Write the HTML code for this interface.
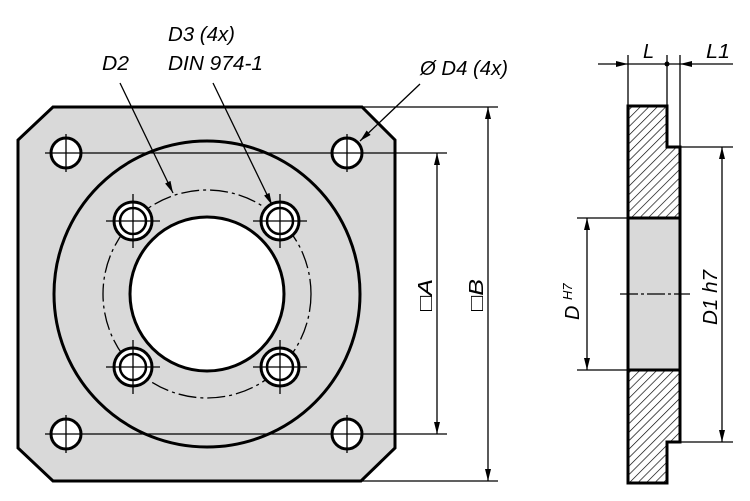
<!DOCTYPE html>
<html><head><style>
html,body{margin:0;padding:0;background:#fff;}
svg{display:block;}
text{font-family:"Liberation Sans Narrow","Liberation Sans",sans-serif;font-style:italic;font-size:20px;fill:#000;}
</style></head><body>
<svg width="750" height="501" viewBox="0 0 750 501" xmlns="http://www.w3.org/2000/svg">
<defs>
<pattern id="h" width="6" height="6" patternUnits="userSpaceOnUse" patternTransform="rotate(45)">
<rect width="6" height="6" fill="#fff"/><line x1="0" y1="0" x2="0" y2="6" stroke="#000" stroke-width="1.3"/>
</pattern>
<marker id="a" viewBox="0 0 10 10" refX="10" refY="5" markerWidth="12" markerHeight="12" markerUnits="userSpaceOnUse" orient="auto-start-reverse"><path d="M0,2.5 L10,5 L0,7.5z" fill="#000"/></marker>
</defs>
<path d="M53,107 L362,107 L395,140 L395,448 L361,481 L53,481 L18,448 L18,140 Z" fill="#d9d9d9" stroke="#000" stroke-width="3"/>
<circle cx="207" cy="294" r="153" fill="none" stroke="#000" stroke-width="3"/>
<circle cx="207" cy="294" r="104" fill="none" stroke="#000" stroke-width="1.3" stroke-dasharray="18,4,3,4"/>
<circle cx="207" cy="294" r="77" fill="#fff" stroke="#000" stroke-width="3"/>
<g stroke="#000" fill="#fff">
<circle cx="133" cy="221" r="19" stroke-width="3"/><circle cx="133" cy="221" r="13" stroke-width="2.5"/>
<circle cx="280" cy="221" r="19" stroke-width="3"/><circle cx="280" cy="221" r="13" stroke-width="2.5"/>
<circle cx="133" cy="367" r="19" stroke-width="3"/><circle cx="133" cy="367" r="13" stroke-width="2.5"/>
<circle cx="280" cy="367" r="19" stroke-width="3"/><circle cx="280" cy="367" r="13" stroke-width="2.5"/>
<circle cx="66" cy="153" r="15" stroke-width="3"/><circle cx="347" cy="153" r="15" stroke-width="3"/>
<circle cx="66" cy="434" r="15" stroke-width="3"/><circle cx="347" cy="434" r="15" stroke-width="3"/>
</g>
<g stroke="#000" stroke-width="1.3">
<line x1="106" y1="221" x2="160" y2="221"/><line x1="133" y1="194" x2="133" y2="248"/>
<line x1="253" y1="221" x2="307" y2="221"/><line x1="280" y1="194" x2="280" y2="248"/>
<line x1="106" y1="367" x2="160" y2="367"/><line x1="133" y1="340" x2="133" y2="394"/>
<line x1="253" y1="367" x2="307" y2="367"/><line x1="280" y1="340" x2="280" y2="394"/>
<line x1="66" y1="134" x2="66" y2="172"/><line x1="347" y1="134" x2="347" y2="172"/>
<line x1="66" y1="415" x2="66" y2="453"/><line x1="347" y1="415" x2="347" y2="453"/>
<line x1="45" y1="153" x2="447" y2="153"/><line x1="45" y1="434" x2="447" y2="434"/>
<line x1="362" y1="107" x2="498" y2="107"/><line x1="361" y1="481" x2="498" y2="481"/>
<line x1="437" y1="153" x2="437" y2="434" marker-start="url(#a)" marker-end="url(#a)"/>
<line x1="488" y1="107" x2="488" y2="481" marker-start="url(#a)" marker-end="url(#a)"/>
<line x1="120" y1="83" x2="173" y2="193" marker-end="url(#a)"/>
<line x1="213" y1="83" x2="272" y2="205" marker-end="url(#a)"/>
<line x1="420" y1="84" x2="360" y2="141" marker-end="url(#a)"/>
</g>
<text x="102" y="70" textLength="27" lengthAdjust="spacingAndGlyphs">D2</text>
<text x="168" y="41" textLength="67" lengthAdjust="spacingAndGlyphs">D3 (4x)</text>
<text x="168" y="70" textLength="95" lengthAdjust="spacingAndGlyphs">DIN 974-1</text>
<text x="420" y="75" textLength="88" lengthAdjust="spacingAndGlyphs">Ø D4 (4x)</text>
<text transform="translate(432,311) rotate(-90)" textLength="32" lengthAdjust="spacingAndGlyphs">□A</text>
<text transform="translate(483,311) rotate(-90)" textLength="32" lengthAdjust="spacingAndGlyphs">□B</text>
<path d="M628,106 L667,106 L667,147 L680,147 L680,442 L667,442 L667,483 L628,483 Z" fill="url(#h)" stroke="#000" stroke-width="3"/>
<rect x="628" y="218" width="52" height="152" fill="#d9d9d9" stroke="#000" stroke-width="3"/>
<g stroke="#000" stroke-width="1.3">
<line x1="620" y1="294" x2="690" y2="294" stroke-dasharray="18,3,3,3"/>
<line x1="628" y1="55" x2="628" y2="106"/><line x1="667" y1="55" x2="667" y2="106"/><line x1="680" y1="55" x2="680" y2="147"/>
<line x1="598" y1="64" x2="628" y2="64" marker-end="url(#a)"/>
<line x1="628" y1="64" x2="680" y2="64"/>
<line x1="733" y1="64" x2="680" y2="64" marker-end="url(#a)"/>
<line x1="577" y1="218" x2="628" y2="218"/><line x1="577" y1="370" x2="628" y2="370"/>
<line x1="587" y1="218" x2="587" y2="370" marker-start="url(#a)" marker-end="url(#a)"/>
<line x1="680" y1="147" x2="733" y2="147"/><line x1="680" y1="442" x2="733" y2="442"/>
<line x1="722" y1="147" x2="722" y2="442" marker-start="url(#a)" marker-end="url(#a)"/>
</g>
<circle cx="667" cy="64" r="2.5" fill="#000"/>
<text x="643" y="58">L</text>
<text x="706" y="58" textLength="24" lengthAdjust="spacingAndGlyphs">L1</text>
<text transform="translate(579,320) rotate(-90)">D <tspan font-size="13" dy="-7">H7</tspan></text>
<text transform="translate(717,325) rotate(-90)" textLength="55" lengthAdjust="spacingAndGlyphs">D1 h7</text>
</svg>
</body></html>
